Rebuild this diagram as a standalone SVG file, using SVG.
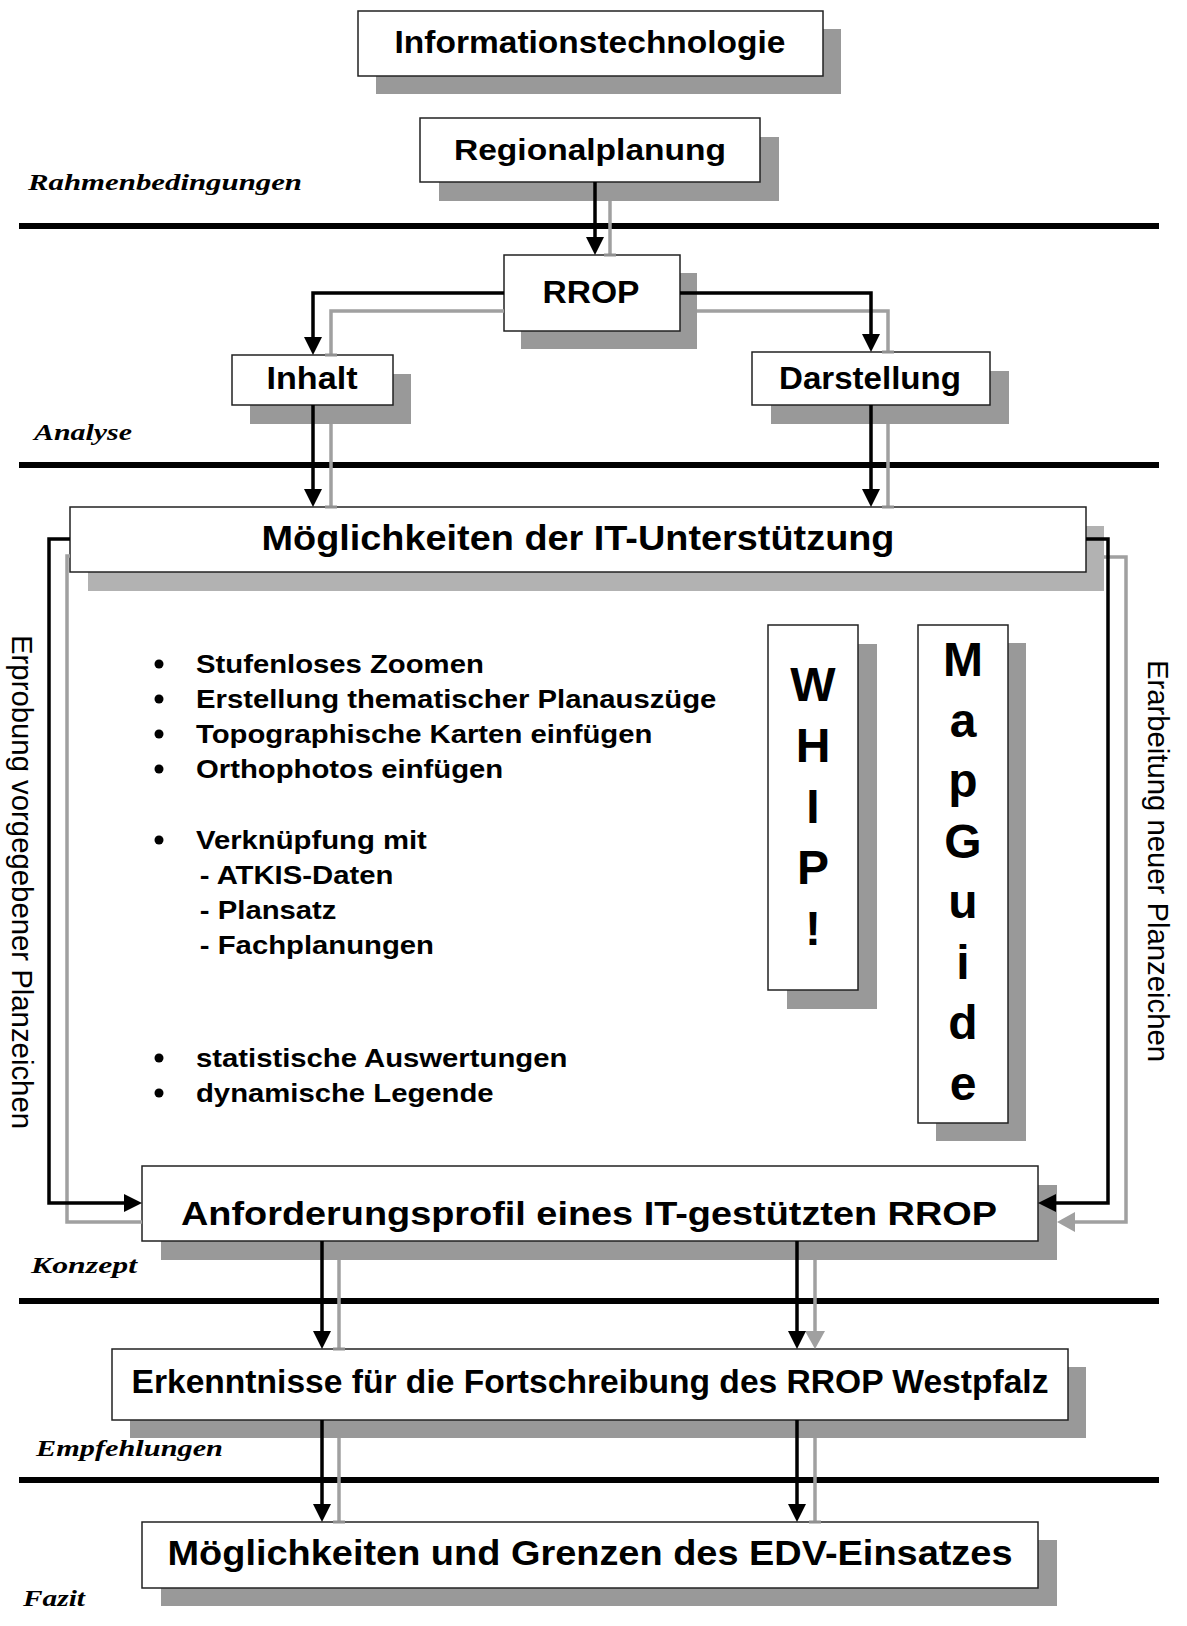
<svg xmlns="http://www.w3.org/2000/svg" width="1187" height="1626" viewBox="0 0 1187 1626">
<style>
.bg{fill:#fff}
.box{fill:#fff;stroke:#222;stroke-width:1.5}
.sh{fill:#999}
.sh2{fill:#b2b2b2}
.t{font-family:"Liberation Sans",Arial,sans-serif;font-weight:bold;fill:#000;text-anchor:middle}
.b{font-family:"Liberation Sans",Arial,sans-serif;font-weight:bold;font-size:26.5px;fill:#000}
.v{font-family:"Liberation Sans",Arial,sans-serif;font-size:29px;fill:#000}
.lab{font-family:"Liberation Serif","Times New Roman",serif;font-weight:bold;font-style:italic;font-size:23px;fill:#000}
.sep{stroke:#000;stroke-width:6}
.k{fill:none;stroke:#000;stroke-width:3.5}
.g{fill:none;stroke:#a0a0a0;stroke-width:3.5}
.dot{fill:#000}
</style>
<defs>
<marker id="ab" markerUnits="userSpaceOnUse" markerWidth="20" markerHeight="20" refX="0" refY="9" orient="auto" overflow="visible"><path d="M0,0 L18,9 L0,18 Z" fill="#000"/></marker>
<marker id="ag" markerUnits="userSpaceOnUse" markerWidth="20" markerHeight="20" refX="0" refY="10" orient="auto" overflow="visible"><path d="M0,0 L18,10 L0,20 Z" fill="#a0a0a0"/></marker>
<marker id="tk" markerUnits="userSpaceOnUse" markerWidth="4" markerHeight="12" refX="0" refY="0" orient="auto" overflow="visible"><path d="M0,-6 L0,6" stroke="#909090" stroke-width="3"/></marker>
</defs>
<rect class="bg" x="0" y="0" width="1187" height="1626"/>

<g id="separators">
<line class="sep" x1="19" y1="226" x2="1159" y2="226"/>
<line class="sep" x1="19" y1="465" x2="1159" y2="465"/>
<line class="sep" x1="19" y1="1301" x2="1159" y2="1301"/>
<line class="sep" x1="19" y1="1480" x2="1159" y2="1480"/>
</g>

<g id="labels">
<text class="lab" x="28" y="190" textLength="274" lengthAdjust="spacingAndGlyphs">Rahmenbedingungen</text>
<text class="lab" x="34" y="440" textLength="98" lengthAdjust="spacingAndGlyphs">Analyse</text>
<text class="lab" x="31" y="1273" textLength="106" lengthAdjust="spacingAndGlyphs">Konzept</text>
<text class="lab" x="36" y="1456" textLength="187" lengthAdjust="spacingAndGlyphs">Empfehlungen</text>
<text class="lab" x="23" y="1606" textLength="62" lengthAdjust="spacingAndGlyphs">Fazit</text>
</g>

<g id="n-informationstechnologie">
<rect class="sh" x="376" y="29" width="465" height="65"/>
<rect class="box" x="358" y="11" width="465" height="65"/>
<text class="t" x="590" y="53" font-size="32" textLength="391" lengthAdjust="spacingAndGlyphs">Informationstechnologie</text>
</g>

<g id="n-regionalplanung">
<rect class="sh" x="439" y="137" width="340" height="64"/>
<rect class="box" x="420" y="118" width="340" height="64"/>
<text class="t" x="590" y="160" font-size="30" textLength="272" lengthAdjust="spacingAndGlyphs">Regionalplanung</text>
</g>

<g id="n-rrop">
<rect class="sh" x="521" y="273" width="176" height="76"/>
<rect class="box" x="504" y="255" width="176" height="76"/>
<text class="t" x="591" y="303" font-size="32" textLength="97" lengthAdjust="spacingAndGlyphs">RROP</text>
</g>

<g id="n-inhalt">
<rect class="sh" x="250" y="374" width="161" height="50"/>
<rect class="box" x="232" y="355" width="161" height="50"/>
<text class="t" x="312" y="389" font-size="32" textLength="91" lengthAdjust="spacingAndGlyphs">Inhalt</text>
</g>

<g id="n-darstellung">
<rect class="sh" x="771" y="371" width="238" height="53"/>
<rect class="box" x="752" y="352" width="238" height="53"/>
<text class="t" x="870" y="389" font-size="32" textLength="182" lengthAdjust="spacingAndGlyphs">Darstellung</text>
</g>

<g id="n-moeglichkeiten-it">
<rect class="sh2" x="88" y="526" width="1016" height="65"/>
<rect class="box" x="70" y="507" width="1016" height="65"/>
<text class="t" x="578" y="550" font-size="35" textLength="633" lengthAdjust="spacingAndGlyphs">Möglichkeiten der IT-Unterstützung</text>
</g>

<g id="n-features">
<g class="dot">
<circle cx="159" cy="664" r="4.5"/>
<circle cx="159" cy="699" r="4.5"/>
<circle cx="159" cy="734" r="4.5"/>
<circle cx="159" cy="769" r="4.5"/>
<circle cx="159" cy="840" r="4.5"/>
<circle cx="159" cy="1058" r="4.5"/>
<circle cx="159" cy="1093" r="4.5"/>
</g>
<g class="b" transform="translate(196,0) scale(1.105,1)">
<text x="0" y="673">Stufenloses Zoomen</text>
<text x="0" y="708">Erstellung thematischer Planauszüge</text>
<text x="0" y="743">Topographische Karten einfügen</text>
<text x="0" y="778">Orthophotos einfügen</text>
<text x="0" y="849">Verknüpfung mit</text>
<text x="3.5" y="884">- ATKIS-Daten</text>
<text x="3.5" y="919">- Plansatz</text>
<text x="3.5" y="954">- Fachplanungen</text>
<text x="0" y="1067">statistische Auswertungen</text>
<text x="0" y="1102">dynamische Legende</text>
</g>
</g>

<g id="n-whip">
<rect class="sh" x="787" y="644" width="90" height="365"/>
<rect class="box" x="768" y="625" width="90" height="365"/>
<g class="t" font-size="48">
<text x="813" y="701">W</text>
<text x="813" y="762">H</text>
<text x="813" y="823">I</text>
<text x="813" y="884">P</text>
<text x="813" y="945">!</text>
</g>
</g>

<g id="n-mapguide">
<rect class="sh" x="936" y="643" width="90" height="498"/>
<rect class="box" x="918" y="625" width="90" height="498"/>
<g class="t" font-size="48">
<text x="963" y="676">M</text>
<text x="963" y="736.5">a</text>
<text x="963" y="797">p</text>
<text x="963" y="857.5">G</text>
<text x="963" y="918">u</text>
<text x="963" y="978.5">i</text>
<text x="963" y="1039">d</text>
<text x="963" y="1099.5">e</text>
</g>
</g>

<g id="n-anforderungsprofil">
<rect class="sh" x="161" y="1185" width="896" height="75"/>
<rect class="box" x="142" y="1166" width="896" height="75"/>
<text class="t" x="589" y="1225" font-size="34" textLength="816" lengthAdjust="spacingAndGlyphs">Anforderungsprofil eines IT-gestützten RROP</text>
</g>

<g id="n-erkenntnisse">
<rect class="sh" x="130" y="1367" width="956" height="71"/>
<rect class="box" x="112" y="1349" width="956" height="71"/>
<text class="t" x="590" y="1393" font-size="33" textLength="917" lengthAdjust="spacingAndGlyphs">Erkenntnisse für die Fortschreibung des RROP Westpfalz</text>
</g>

<g id="n-grenzen">
<rect class="sh" x="161" y="1540" width="896" height="66"/>
<rect class="box" x="142" y="1522" width="896" height="66"/>
<text class="t" x="590" y="1565" font-size="35" textLength="845" lengthAdjust="spacingAndGlyphs">Möglichkeiten und Grenzen des EDV-Einsatzes</text>
</g>

<g id="side-labels">
<text class="v" transform="translate(12,635) rotate(90)" textLength="494" lengthAdjust="spacingAndGlyphs">Erprobung vorgegebener Planzeichen</text>
<text class="v" transform="translate(1148,660) rotate(90)" textLength="402" lengthAdjust="spacingAndGlyphs">Erarbeitung neuer Planzeichen</text>
</g>

<g id="connectors">
<path class="g" d="M610,201 V255" marker-end="url(#tk)"/>
<path class="g" d="M504,311 H331 V355" marker-end="url(#tk)"/>
<path class="g" d="M697,311 H888 V352" marker-end="url(#tk)"/>
<path class="g" d="M331,424 V507" marker-end="url(#tk)"/>
<path class="g" d="M888,424 V507" marker-end="url(#tk)"/>
<path class="g" d="M70,556 H67 V1222 H142"/>
<path class="g" d="M1104,557 H1126 V1222 H1075" marker-end="url(#ag)"/>
<path class="g" d="M339,1260 V1349" marker-end="url(#tk)"/>
<path class="g" d="M815,1260 V1331" marker-end="url(#ag)"/>
<path class="g" d="M339,1438 V1522" marker-end="url(#tk)"/>
<path class="g" d="M815,1438 V1522" marker-end="url(#tk)"/>

<path class="k" d="M595,182 V237" marker-end="url(#ab)"/>
<path class="k" d="M504,293 H313 V337" marker-end="url(#ab)"/>
<path class="k" d="M680,293 H871 V334" marker-end="url(#ab)"/>
<path class="k" d="M313,405 V489" marker-end="url(#ab)"/>
<path class="k" d="M871,405 V489" marker-end="url(#ab)"/>
<path class="k" d="M70,539 H49 V1203 H124" marker-end="url(#ab)"/>
<path class="k" d="M1086,539 H1108 V1203 H1056" marker-end="url(#ab)"/>
<path class="k" d="M322,1241 V1331" marker-end="url(#ab)"/>
<path class="k" d="M797,1241 V1331" marker-end="url(#ab)"/>
<path class="k" d="M322,1420 V1504" marker-end="url(#ab)"/>
<path class="k" d="M797,1420 V1504" marker-end="url(#ab)"/>
</g>
</svg>
